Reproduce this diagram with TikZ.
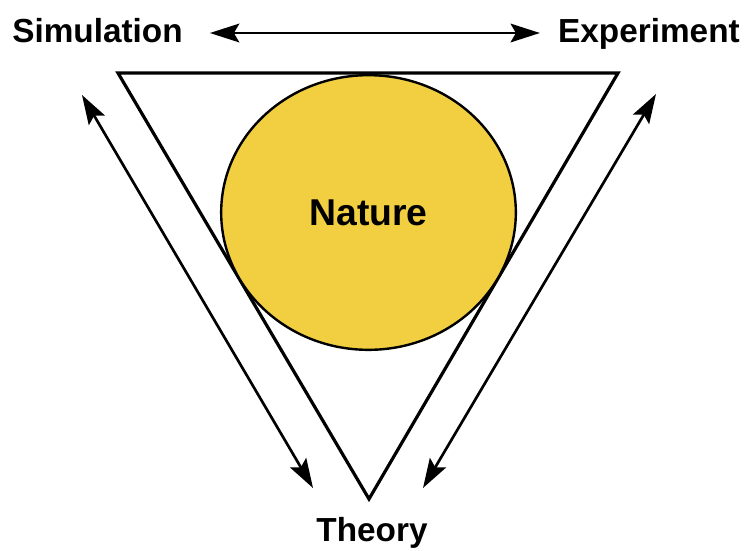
\documentclass[tikz,border=0pt]{standalone}
\usepackage{fontspec}
\setmainfont{Liberation Sans}
\usetikzlibrary{arrows.meta, shapes.geometric, calc}
\definecolor{natureyellow}{RGB}{242,207,64}
\tikzset{
    label/.style={
        inner sep=0pt, font=\fontsize{25}{28}\selectfont\bfseries
    },
    nature/.style={
        ellipse, draw=black, fill=natureyellow, line width=1.8pt,
        minimum width=221pt, minimum height=206pt, inner sep=0pt,
        font=\fontsize{28}{32}\selectfont\bfseries
    },
    arrow/.style={
        {Stealth[length=22pt, width=14pt, inset=4pt]}-{Stealth[length=22pt, width=14pt, inset=4pt]},
        line width=2pt, draw=black
    },
    frame/.style={line width=2.4pt, draw=black, line join=miter}
}

\begin{document}
\begin{tikzpicture}[x=0.75pt, y=-0.75pt]
    \useasboundingbox (0,0) rectangle (749,550);

    \node[label, anchor=base west] (sim) at (12,42) {Simulation};
    \node[label, anchor=base east] (exp) at (740,42) {Experiment};
    \node[label, anchor=base] (theory) at (372,541) {Theory};

    % triangle corners
    \coordinate (tl) at (118,73);
    \coordinate (tr) at (618,73);
    \coordinate (bot) at (369,499);
    \draw[frame] (tl) -- (tr) -- (bot) -- cycle;

    \node[nature] (nat) at (368.5,212.5) {Nature};

    % arrow ends
    \coordinate (simend) at (82,95);
    \coordinate (thleft) at (313,488);
    \coordinate (expend) at (656,94);
    \coordinate (thright) at (423,488);

    \draw[arrow] ($(sim.base east)+(27,-9)$) -- ($(exp.base west)+(-18,-9)$);
    \draw[arrow] (simend) -- (thleft);
    \draw[arrow] (expend) -- (thright);
\end{tikzpicture}
\end{document}
